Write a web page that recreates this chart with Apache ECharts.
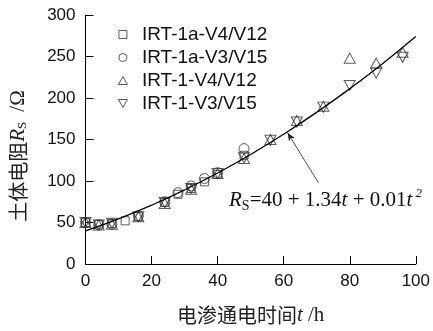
<!DOCTYPE html>
<html><head><meta charset="utf-8">
<script src="https://cdn.jsdelivr.net/npm/echarts@6/dist/echarts.min.js"></script>
<style>html,body{margin:0;padding:0;background:#fff}#c{width:433px;height:331px}</style>
</head><body><div id="c"></div>
<script>
const xTicks = [0, 20, 40, 60, 80, 100];
const yTicks = [0, 50, 100, 150, 200, 250, 300];
const seriesNames = ['IRT-1a-V4/V12', 'IRT-1a-V3/V15', 'IRT-1-V4/V12', 'IRT-1-V3/V15'];
const t_sq = [0, 4, 8, 12, 16, 24, 28, 32, 36, 40, 48];
const r_sq = [50, 48, 49, 52, 57, 74, 84, 91, 99, 108, 131];
const t_ci = [0, 4, 8, 16, 24, 28, 32, 36, 40, 48];
const r_ci = [50, 47, 48, 58, 75, 86, 94, 103, 110, 139];
const t_up = [0, 4, 8, 16, 24, 32, 40, 48, 56, 64, 72, 80, 88, 96];
const r_up = [50, 47, 48, 57, 73, 90, 109, 127, 150, 173, 190, 248, 242, 255];
const t_dn = [0, 4, 8, 16, 24, 32, 40, 48, 56, 64, 72, 80, 88, 96];
const r_dn = [50, 47, 49, 57, 74, 91, 109, 128, 149, 171, 189, 215, 230, 249];
// fitted curve
const t_fit = [0, 10, 20, 30, 40, 50, 60, 70, 80, 90, 100];
const r_fit = [40, 54.4, 70.8, 89.2, 109.6, 132, 156.4, 182.8, 211.2, 241.6, 274];
// annotation arrow (tail, head) and equation anchor, in data units
const arrowFrom = [70.5, 98];
const arrowTo = [61.2, 158];
const eqPos = [43.3, 77];

const pairs = (xs, ys) => xs.map((x, i) => [x, ys[i]]);
const hollow = { color: 'rgba(0,0,0,0)', borderColor: '#333', borderWidth: 1 };
const serif = '"Liberation Serif","DejaVu Serif",serif';
const sans = '"Liberation Sans",Arial,sans-serif';
const cjk = '"Noto Sans CJK SC",sans-serif';
const downTri = 'path://M0,0L10,0L5,9Z';
const upTri = 'path://M5,0L10,9L0,9Z';
const square = 'path://M0,0L8,0L8,8L0,8Z';

const chart = echarts.init(document.getElementById('c'), null, {renderer: 'canvas'});
chart.setOption({
  animation: false,
  backgroundColor: '#fff',
  grid: { left: 83, right: 15, top: 15, bottom: 66, containLabel: false },
  legend: {
    orient: 'vertical', left: 113, top: 20, itemGap: 4, itemWidth: 22, itemHeight: 8,
    itemStyle: { color: 'rgba(0,0,0,0)', borderColor: '#333', borderWidth: 1 },
    data: [
      { name: seriesNames[0], icon: square, itemHeight: 7 },
      { name: seriesNames[1], icon: 'circle' },
      { name: seriesNames[2], icon: upTri },
      { name: seriesNames[3], icon: downTri }
    ],
    textStyle: { fontFamily: sans, fontSize: 19, color: '#111', padding: [0, 0, 0, 3] }
  },
  xAxis: {
    type: 'value', min: 0, max: 100, interval: 20,
    name: '{c|电渗通电时间}{i|t}{r| /h}', nameLocation: 'middle', nameGap: 41,
    nameTextStyle: { rich: {
      c: { fontFamily: cjk, fontSize: 20, color: '#222' },
      i: { fontFamily: serif, fontStyle: 'italic', fontSize: 21, color: '#222' },
      r: { fontFamily: serif, fontSize: 21, color: '#222' } } },
    axisLine: { lineStyle: { color: '#000', width: 1 } },
    axisTick: { inside: true, length: 8, lineStyle: { color: '#000' } },
    axisLabel: { fontFamily: sans, fontSize: 17, color: '#111', margin: 9,
      formatter: v => xTicks.includes(v) ? String(v) : '' },
    splitLine: { show: false }
  },
  yAxis: {
    type: 'value', min: 0, max: 300, interval: 50,
    name: '{c|土体电阻}{i|R}{s|S}{r|/Ω}', nameLocation: 'middle', nameGap: 56, nameRotate: 90,
    nameTextStyle: { padding: [0, 33, 0, 0], rich: {
      c: { fontFamily: cjk, fontSize: 20, color: '#222' },
      i: { fontFamily: serif, fontStyle: 'italic', fontSize: 21, color: '#222' },
      s: { fontFamily: serif, fontSize: 13, color: '#222', verticalAlign: 'bottom', padding: [9, 0, 0, 0] },
      r: { fontFamily: serif, fontSize: 21, color: '#222', padding: [0, 0, 0, 10] } } },
    axisLine: { show: true, lineStyle: { color: '#000', width: 1 } },
    axisTick: { show: true, inside: true, length: 8, lineStyle: { color: '#000' } },
    axisLabel: { fontFamily: sans, fontSize: 17, color: '#111', margin: 10,
      formatter: v => yTicks.includes(v) ? String(v) : '' },
    splitLine: { show: false }
  },
  series: [
    { name: seriesNames[0], type: 'scatter', symbol: 'rect', symbolSize: 8, itemStyle: hollow, data: pairs(t_sq, r_sq), z: 3 },
    { name: seriesNames[1], type: 'scatter', symbol: 'circle', symbolSize: 10, itemStyle: hollow, data: pairs(t_ci, r_ci), z: 3 },
    { name: seriesNames[2], type: 'scatter', symbol: upTri, symbolSize: [11, 10], itemStyle: hollow, data: pairs(t_up, r_up), z: 3 },
    { name: seriesNames[3], type: 'scatter', symbol: downTri, symbolSize: [11, 10], itemStyle: hollow, data: pairs(t_dn, r_dn), z: 3 },
    { name: 'fit', type: 'line', smooth: true, showSymbol: false, symbol: 'none',
      lineStyle: { color: '#000', width: 1.3 }, data: pairs(t_fit, r_fit), z: 4,
      markLine: { silent: true, symbol: ['none', 'arrow'], symbolSize: [5, 8],
        lineStyle: { color: '#222', width: 0.8, type: 'solid' }, label: { show: false },
        data: [[ { coord: arrowFrom }, { coord: arrowTo } ]] },
      markPoint: { silent: true, symbol: 'circle', symbolSize: 1, itemStyle: { color: 'rgba(0,0,0,0)' },
        data: [{ coord: eqPos, label: { show: true, position: 'right', distance: 0,
          formatter: '{i|R}{s|S}{r|=40 + 1.34}{i|t}{r| + 0.01}{i|t}{p| 2}',
          rich: {
            i: { fontFamily: serif, fontStyle: 'italic', fontSize: 21, color: '#111' },
            s: { fontFamily: serif, fontSize: 14, color: '#111', verticalAlign: 'bottom', padding: [12, 0, 0, 0] },
            r: { fontFamily: serif, fontSize: 21, color: '#111' },
            p: { fontFamily: serif, fontStyle: 'italic', fontSize: 13, color: '#111', verticalAlign: 'top', padding: [0, 0, 12, 0] }
          } } }] } }
  ]
});
</script></body></html>
